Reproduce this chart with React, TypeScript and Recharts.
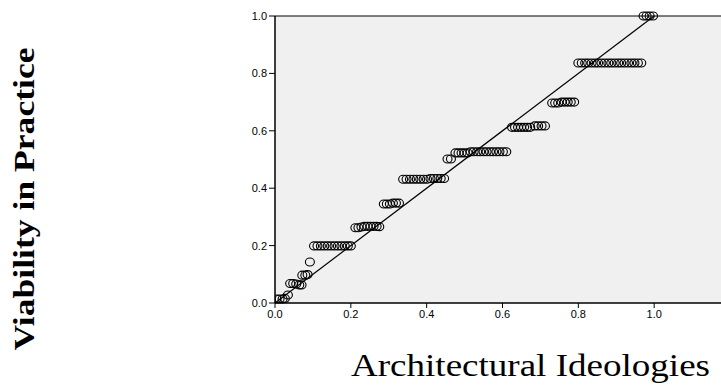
import React from "react";
import {
  ScatterChart,
  Scatter,
  XAxis,
  YAxis,
  ReferenceArea,
  ReferenceLine,
  Label,
} from "recharts";

// Observed cumulative probability (x) and expected cumulative probability (y)
const observedProb: number[] = [
  0.004, 0.012, 0.02, 0.026, 0.034,
  0.04, 0.048, 0.056, 0.064, 0.07,
  0.072, 0.08, 0.086,
  0.092,
  0.103, 0.112, 0.121, 0.13, 0.139, 0.148, 0.157, 0.166, 0.175, 0.184, 0.192, 0.2,
  0.212, 0.22, 0.228, 0.236, 0.244, 0.252, 0.26, 0.268, 0.275,
  0.287, 0.295, 0.303, 0.311, 0.319, 0.327,
  0.338, 0.347, 0.356, 0.365, 0.374, 0.383, 0.392, 0.401, 0.41, 0.419, 0.428, 0.437, 0.446,
  0.455, 0.464,
  0.476, 0.484, 0.492, 0.5, 0.508, 0.516, 0.524, 0.533, 0.541, 0.55, 0.558, 0.567, 0.575, 0.584, 0.592, 0.601, 0.61,
  0.625, 0.633, 0.641, 0.649, 0.657, 0.665, 0.673, 0.685, 0.694, 0.703, 0.712,
  0.731, 0.739, 0.747, 0.756, 0.764, 0.772, 0.78, 0.789,
  0.8, 0.809, 0.818, 0.826, 0.835, 0.844, 0.852, 0.861, 0.87, 0.879, 0.887, 0.896, 0.905, 0.913, 0.922, 0.931, 0.94, 0.948, 0.957, 0.966,
  0.972, 0.98, 0.988, 0.997,
];

const expectedProb: number[] = [
  0.014, 0.014, 0.014, 0.016, 0.028,
  0.068, 0.068, 0.066, 0.063, 0.063,
  0.097, 0.097, 0.099,
  0.143,
  0.199, 0.199, 0.199, 0.199, 0.199, 0.199, 0.199, 0.199, 0.199, 0.199, 0.199, 0.199,
  0.262, 0.262, 0.265, 0.267, 0.267, 0.267, 0.267, 0.267, 0.266,
  0.345, 0.345, 0.345, 0.348, 0.348, 0.348,
  0.431, 0.431, 0.431, 0.431, 0.431, 0.431, 0.431, 0.431, 0.434, 0.434, 0.434, 0.434, 0.434,
  0.502, 0.502,
  0.523, 0.523, 0.523, 0.523, 0.523, 0.527, 0.527, 0.527, 0.527, 0.527, 0.527, 0.527, 0.527, 0.527, 0.527, 0.527, 0.527,
  0.612, 0.612, 0.612, 0.612, 0.612, 0.612, 0.612, 0.617, 0.617, 0.617, 0.617,
  0.697, 0.697, 0.697, 0.7, 0.7, 0.7, 0.7, 0.7,
  0.836, 0.836, 0.836, 0.836, 0.836, 0.836, 0.836, 0.836, 0.836, 0.836, 0.836, 0.836, 0.836, 0.836, 0.836, 0.836, 0.836, 0.836, 0.836, 0.836,
  1.0, 1.0, 1.0, 1.0,
];

const xTicks = [0, 0.2, 0.4, 0.6, 0.8, 1.0];
const yTicks = [0, 0.2, 0.4, 0.6, 0.8, 1.0];
const xTitle = "Architectural Ideologies";
const yTitle = "Viability in Practice";

const data = observedProb.map((x, i) => ({ x, y: expectedProb[i] }));

const SERIF = "'Liberation Serif', 'Times New Roman', serif";
const SANS = "'Liberation Sans', Arial, sans-serif";

const OpenCircle = (props: any) => {
  const { cx, cy } = props;
  if (cx == null || cy == null) return null;
  return (
    <ellipse cx={cx} cy={cy} rx={4.5} ry={4} fill="none" stroke="#000" strokeWidth={1.1} />
  );
};

const tickStyle = { fill: "#000", fontSize: 11, style: { fontFamily: SANS } };

export default function App() {
  return (
    <div style={{ position: "absolute", left: 0, top: 0, width: 721, height: 385, overflow: "hidden", background: "#fff" }}>
      <ScatterChart width={760} height={385} margin={{ top: 16, right: 30, bottom: 0, left: 0 }}>
        <ReferenceArea x1={0} x2={1.2} y1={0} y2={1} fill="#f0f0f0" fillOpacity={1} stroke="#000" strokeWidth={1} />
        <XAxis
          type="number"
          dataKey="x"
          domain={[0, 1.2]}
          ticks={xTicks}
          tickFormatter={(v: number) => v.toFixed(1)}
          height={82}
          tickSize={5}
          tickMargin={2}
          tick={tickStyle}
          axisLine={{ stroke: "#000" }}
          tickLine={{ stroke: "#000" }}
          allowDataOverflow
        >
          <Label
            content={() => (
              <text
                x={351}
                y={376}
                fontSize={31}
                style={{ fontFamily: SERIF }}
                fill="#000"
                textLength={359}
                lengthAdjust="spacingAndGlyphs"
              >
                {xTitle}
              </text>
            )}
          />
        </XAxis>
        <YAxis
          type="number"
          dataKey="y"
          domain={[0, 1]}
          ticks={yTicks}
          tickFormatter={(v: number) => v.toFixed(1)}
          width={275}
          tickSize={6}
          tickMargin={2}
          tick={tickStyle}
          axisLine={{ stroke: "#000" }}
          tickLine={{ stroke: "#000" }}
        >
          <Label
            content={() => (
              <text
                x={34}
                y={199}
                transform="rotate(-90, 34, 199)"
                textAnchor="middle"
                fontSize={29}
                fontWeight="bold"
                style={{ fontFamily: SERIF }}
                fill="#000"
                textLength={303}
                lengthAdjust="spacingAndGlyphs"
              >
                {yTitle}
              </text>
            )}
          />
        </YAxis>
        <ReferenceLine
          segment={[
            { x: 0, y: 0 },
            { x: 1, y: 1 },
          ]}
          stroke="#000"
          strokeWidth={1.2}
        />
        <Scatter data={data} shape={<OpenCircle />} isAnimationActive={false} />
      </ScatterChart>
    </div>
  );
}
